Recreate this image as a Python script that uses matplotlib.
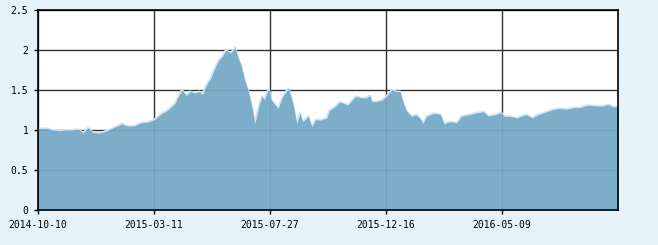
import numpy as np
import matplotlib
matplotlib.use("Agg")
import matplotlib.pyplot as plt

# trading-day index of each reading and the value
day = [0, 7, 13, 18, 24, 30, 35, 39, 43, 47, 53, 59, 64, 72, 77, 83, 89, 95,
       100, 106, 112, 118, 121, 124, 128, 131, 135, 139, 142, 145, 149, 153,
       156, 159, 162, 166, 170, 172, 175, 178, 181, 184, 187, 190, 193, 195,
       199, 201, 207, 211, 216, 220, 223, 226, 228, 233, 236, 239, 244, 249,
       251, 256, 260, 264, 267, 271, 274, 279, 283, 286, 288, 293, 297, 301,
       305, 309, 312, 315, 318, 322, 326, 329, 332, 335, 341, 345, 347, 350,
       354, 358, 361, 365, 371, 377, 384, 388, 394, 399, 402, 407, 413, 417,
       421, 426, 431, 437, 443, 449, 456, 462, 467, 474, 482, 487, 492, 495,
       500]
value = [1.02, 1.02, 1.00, 0.99, 1.00, 1.00, 1.01, 0.96, 1.03, 0.97, 0.96,
         0.99, 1.02, 1.075, 1.05, 1.05, 1.09, 1.10, 1.125, 1.20, 1.25, 1.33,
         1.42, 1.50, 1.43, 1.48, 1.46, 1.48, 1.44, 1.56, 1.65, 1.79, 1.875,
         1.92, 2.00, 1.96, 2.03, 1.92, 1.81, 1.625, 1.50, 1.31, 1.08, 1.27,
         1.42, 1.375, 1.52, 1.375, 1.27, 1.42, 1.52, 1.31, 1.08, 1.21, 1.10,
         1.17, 1.04, 1.125, 1.125, 1.15, 1.24, 1.29, 1.35, 1.33, 1.31, 1.375,
         1.42, 1.40, 1.40, 1.43, 1.35, 1.36, 1.375, 1.43, 1.50, 1.48, 1.48,
         1.33, 1.23, 1.17, 1.19, 1.15, 1.08, 1.17, 1.21, 1.20, 1.19, 1.075,
         1.10, 1.10, 1.09, 1.17, 1.19, 1.21, 1.23, 1.175, 1.19, 1.22, 1.17,
         1.17, 1.15, 1.175, 1.19, 1.15, 1.19, 1.22, 1.25, 1.27, 1.26, 1.28,
         1.28, 1.31, 1.30, 1.30, 1.32, 1.29, 1.29]

tick_day = [0, 100, 200, 300, 400]
tick_labels = ["2014-10-10", "2015-03-11", "2015-07-27", "2015-12-16", "2016-05-09"]
y_ticks = [0, 0.5, 1, 1.5, 2, 2.5]

fig = plt.figure(figsize=(6.58, 2.45), dpi=100, facecolor="#e6f2fa")
ax = fig.add_axes([38 / 658, 35 / 245, 580 / 658, 200 / 245])
ax.set_facecolor("white")

# light halo along the top edge, then the area itself
ax.plot(day, value, color="#cfe5f3", lw=1.6, zorder=2)
ax.fill_between(day, value, 0, color="#74a9c6", alpha=0.94, lw=0, zorder=3)

ax.set_xlim(0, 500)
ax.set_ylim(0, 2.5)
ax.set_xticks(tick_day)
ax.set_xticklabels(tick_labels)
ax.set_yticks(y_ticks)
ax.set_yticklabels(["0", "0.5", "1", "1.5", "2", "2.5"])
ax.grid(True, color="#333333", lw=1, zorder=1)
ax.set_axisbelow(True)
for s in ax.spines.values():
    s.set_color("black")
    s.set_linewidth(1.2)
    s.set_zorder(5)
ax.tick_params(direction="out", length=3, width=1, color="black",
               labelsize=7, pad=4)
for lab in ax.get_xticklabels() + ax.get_yticklabels():
    lab.set_family("DejaVu Sans Mono")

fig.savefig("out.png", dpi=100, facecolor=fig.get_facecolor())
